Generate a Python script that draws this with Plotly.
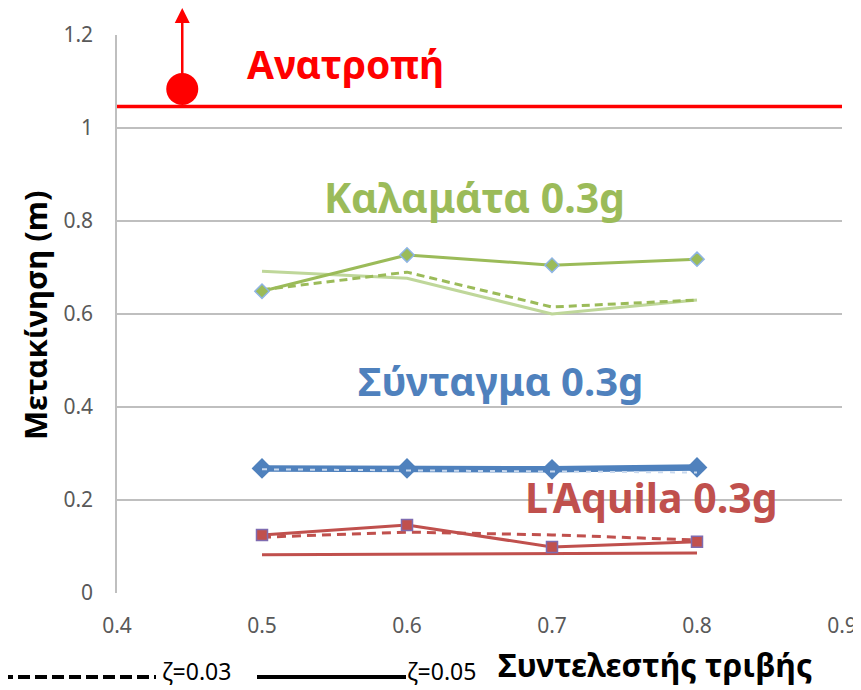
import plotly.graph_objects as go

friction = [0.5, 0.6, 0.7, 0.8]

# Kalamata 0.3g
kal_z05_mk = [0.649, 0.727, 0.705, 0.718]
kal_z03 = [0.652, 0.690, 0.615, 0.630]
kal_z05 = [0.692, 0.677, 0.600, 0.630]

# Syntagma 0.3g
syn_z05 = [0.268, 0.268, 0.266, 0.270]
syn_z03 = [0.266, 0.264, 0.262, 0.259]

# L'Aquila 0.3g
laq_z05_mk = [0.125, 0.146, 0.099, 0.110]
laq_z03 = [0.120, 0.131, 0.125, 0.114]
laq_z05 = [0.082, 0.083, 0.085, 0.086]

overturn_level = 1.046
overturn_x = [0.4, 0.9]
dot_x, dot_y = 0.445, 1.084
arrow_top = 1.258

GREEN = "#9BBB59"
GREEN_L = "#BFD79A"
BLUE = "#4F81BD"
RED = "#C0504D"
FONT = "Noto Sans"

# page offset of the figure (default body margin) and plot-area geometry (page pixels)
OFF = 8
L, R, T, B = 117, 842, 35, 593
W, H = R - L, B - T


def px(x):
    return (x - L) / W


def py(y):
    return (B - y) / H


fig = go.Figure()

# Kalamata
fig.add_trace(go.Scatter(x=friction, y=kal_z05, mode="lines",
                         line=dict(color=GREEN_L, width=3), showlegend=False))
fig.add_trace(go.Scatter(x=friction, y=kal_z03, mode="lines",
                         line=dict(color=GREEN, width=3, dash="8px,5px"), showlegend=False))
fig.add_trace(go.Scatter(x=friction, y=kal_z05_mk, mode="lines+markers",
                         line=dict(color=GREEN, width=3),
                         marker=dict(symbol="diamond", size=11, color=GREEN,
                                     line=dict(color="#8EB4E3", width=1.5)),
                         showlegend=False))

# Syntagma
fig.add_trace(go.Scatter(x=friction, y=syn_z05, mode="lines+markers",
                         line=dict(color=BLUE, width=6.5),
                         marker=dict(symbol="diamond", size=16, color=BLUE),
                         showlegend=False))
fig.add_trace(go.Scatter(x=friction, y=syn_z03, mode="lines",
                         line=dict(color="#C9D9EE", width=2, dash="5px,7px"), showlegend=False))

# L'Aquila
fig.add_trace(go.Scatter(x=friction, y=laq_z05, mode="lines",
                         line=dict(color=RED, width=3), showlegend=False))
fig.add_trace(go.Scatter(x=friction, y=laq_z03, mode="lines",
                         line=dict(color=RED, width=3, dash="9px,6px"), showlegend=False))
fig.add_trace(go.Scatter(x=friction, y=laq_z05_mk, mode="lines+markers",
                         line=dict(color=RED, width=3),
                         marker=dict(symbol="square", size=11, color=RED,
                                     line=dict(color="#7F6BB0", width=1.5)),
                         showlegend=False))

# Overturn line and dot
fig.add_trace(go.Scatter(x=overturn_x, y=[overturn_level, overturn_level], mode="lines",
                         line=dict(color="#FF0000", width=3.5), showlegend=False))
fig.add_trace(go.Scatter(x=[dot_x], y=[dot_y], mode="markers",
                         marker=dict(size=32, color="#FF0000"), showlegend=False,
                         cliponaxis=False))


def label(xp, yp, text, size, color, xanchor="center", angle=0):
    return dict(x=px(xp), y=py(yp), xref="paper", yref="paper", text=text,
                showarrow=False, xanchor=xanchor, yanchor="middle", textangle=angle,
                font=dict(family=FONT, size=size, color=color))


annotations = [
    dict(x=dot_x, y=arrow_top, ax=dot_x, ay=dot_y, xref="x", yref="y", axref="x", ayref="y",
         showarrow=True, arrowhead=2, arrowsize=1.2, arrowwidth=2.5, arrowcolor="#FF0000", text=""),
    label(345, 63, "<b>Ανατροπή</b>", 39, "#FF0000"),
    label(474, 197, "<b>Καλαμάτα 0.3g</b>", 41, GREEN),
    label(500, 380, "<b>Σύνταγμα 0.3g</b>", 40, BLUE),
    label(651, 497, "<b>L'Aquila 0.3g</b>", 41, RED),
    label(655, 664, "<b>Συντελεστής τριβής</b>", 32, "black"),
    label(35, 316, "<b>Μετακίνηση (m)</b>", 31, "black", angle=-90),
    label(160, 671, "ζ=0.03", 23, "black", xanchor="left"),
    label(405, 671, "ζ=0.05", 23, "black", xanchor="left"),
]

shapes = [
    dict(type="line", xref="paper", yref="paper", x0=px(1), x1=px(156),
         y0=py(677), y1=py(677),
         line=dict(color="black", width=4, dash="12px,5px")),
    dict(type="line", xref="paper", yref="paper", x0=px(257), x1=px(406),
         y0=py(677), y1=py(677),
         line=dict(color="black", width=4)),
]

fig.update_layout(
    width=861 - OFF, height=690 - OFF,
    margin=dict(l=L - OFF, r=861 - R, t=T - OFF, b=690 - B),
    paper_bgcolor="white", plot_bgcolor="white",
    annotations=annotations, shapes=shapes,
    font=dict(family=FONT),
    xaxis=dict(range=[0.4, 0.9], dtick=0.1, tickformat=".1f", showgrid=False,
               showline=False, zeroline=False, ticks="", automargin=False,
               ticklabelstandoff=18,
               tickfont=dict(family=FONT, size=21, color="#595959")),
    yaxis=dict(range=[0, 1.2], showgrid=True, gridcolor="#BFBFBF", gridwidth=1.5,
               showline=True, linecolor="#BFBFBF", linewidth=1.5, zeroline=False,
               tickvals=[0, 0.2, 0.4, 0.6, 0.8, 1, 1.2],
               ticktext=["0", "0.2", "0.4", "0.6", "0.8", "1", "1.2"],
               ticks="", automargin=False, ticklabelstandoff=18,
               tickfont=dict(family=FONT, size=21, color="#595959")),
)

fig.write_html("out.html")
